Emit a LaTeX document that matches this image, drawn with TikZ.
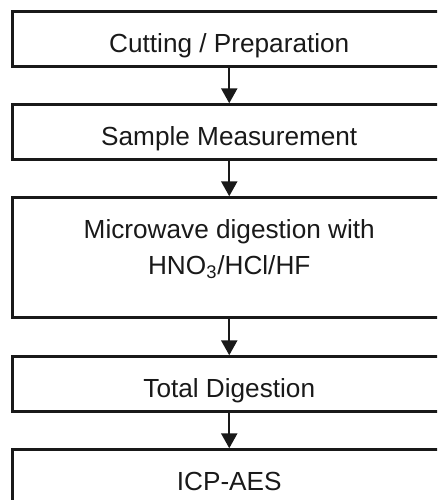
\documentclass[tikz,border=0pt]{standalone}
\usepackage{fontspec}
\setmainfont{Liberation Sans}
\usepackage{tikz}
\usetikzlibrary{arrows.meta, positioning}
\definecolor{flowline}{RGB}{25,25,25}

\begin{document}
\begin{tikzpicture}[
  >={Triangle[width=0.32cm, length=0.3cm]},
  every node/.style={font=\fontsize{14.9}{20.5}\selectfont, text=flowline},
  stepbox/.style={draw=flowline, line width=1.4pt, minimum width=8.67cm,
    minimum height=1.1cm, inner sep=0pt, text height=0.576cm, text depth=0.042cm},
  flowarrow/.style={->, draw=flowline, line width=1.4pt}
]

%% Frame (boxes run off the right and bottom edge)
\useasboundingbox (0,0) rectangle (8.74,10);
\clip (0,0) rectangle (8.74,10);

%% ── PROCESS STEPS ───────────────────────────────────────────
\node[stepbox] (cut)   at (4.585, 9.22) {Cutting / Preparation};
\node[stepbox] (weigh) at (4.585, 7.36) {Sample Measurement};
\node[stepbox, minimum height=2.4cm, align=center,
      text height=1.10cm, text depth=0.42cm] (micro)
  at (4.585, 4.85)
  {Microwave digestion with\\HNO\textsubscript{3}/HCl/HF};
\node[stepbox] (total) at (4.585, 2.32) {Total Digestion};
\node[stepbox] (icp)   at (4.585, 0.46) {ICP-AES};

%% Arrows between steps
\draw[flowarrow] (cut)   -- (weigh);
\draw[flowarrow] (weigh) -- (micro);
\draw[flowarrow] (micro) -- (total);
\draw[flowarrow] (total) -- (icp);

\end{tikzpicture}
\end{document}
